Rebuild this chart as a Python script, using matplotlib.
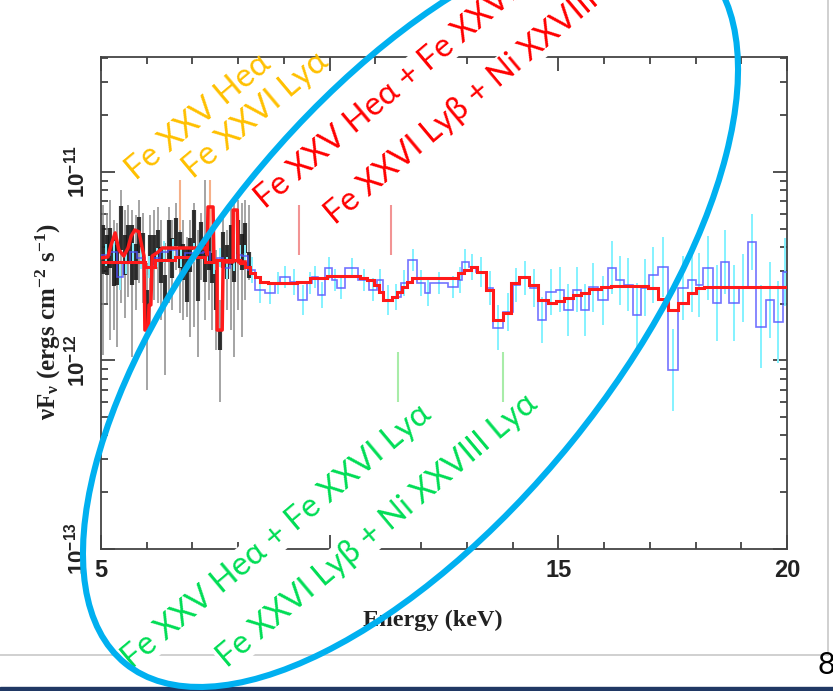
import numpy as np
import matplotlib
matplotlib.use('Agg')
import matplotlib.pyplot as plt
from matplotlib.patches import Ellipse, Rectangle
from matplotlib.ticker import MultipleLocator

# Energy in keV, flux (nu F_nu) in units of 1e-12 erg cm^-2 s^-1

# blue rebinned spectrum (step histogram) + cyan error bars (dex)
blue_edges = [5.00, 5.20, 5.35, 5.48, 5.63, 5.79, 5.96, 6.14, 6.29, 6.47, 6.66, 6.84,
              7.23, 7.39, 7.54, 7.67, 7.82, 7.98, 8.09, 8.22, 8.37, 8.59, 8.81, 8.92,
              9.14, 9.31, 9.51, 9.62, 9.75, 9.90, 10.06, 10.17, 10.34, 10.63, 10.85,
              11.04, 11.17, 11.37, 11.55, 11.72, 11.92, 12.09, 12.20, 12.58, 12.80,
              12.90, 13.04, 13.19, 13.41, 13.58, 13.80, 14.00, 14.17, 14.39, 14.55,
              14.72, 14.94, 15.12, 15.31, 15.49, 15.66, 15.86, 16.08, 16.25, 16.43,
              16.63, 16.80, 16.98, 17.17, 17.39, 17.61, 17.83, 18.01, 18.16, 18.38,
              18.55, 18.73, 18.95, 19.14, 19.32, 19.54, 19.71, 19.91, 20.0]
blue_flux = [3.63, 3.76, 2.77, 3.29, 3.76, 3.50, 3.13, 3.50, 3.76, 3.86, 3.50, 3.72,
             3.76, 3.29, 3.50, 3.10, 3.41, 3.63, 3.58, 3.02, 2.37, 2.28, 2.58, 2.77,
             2.61, 2.09, 2.58, 2.77, 2.23, 3.10, 2.67, 2.43, 3.10, 2.67, 2.37, 2.67,
             2.09, 2.17, 2.58, 3.41, 2.58, 2.28, 2.58, 2.45, 2.67, 3.33, 3.13, 2.95,
             2.43, 1.49, 1.81, 2.52, 2.74, 2.43, 1.64, 2.31, 2.37, 1.85, 2.37, 1.85,
             2.45, 2.09, 3.10, 2.67, 2.52, 1.74, 2.43, 2.84, 3.13, 0.89, 2.43, 2.67,
             2.52, 3.10, 2.02, 3.33, 2.02, 2.43, 4.25, 1.51, 2.09, 1.60, 2.95]
blue_err = [0.06, 0.06, 0.07, 0.06, 0.05, 0.06, 0.06, 0.05, 0.06, 0.06, 0.05, 0.05,
            0.06, 0.06, 0.05, 0.06, 0.06, 0.05,
            0.06, 0.07, 0.07, 0.06, 0.06, 0.06, 0.07, 0.08, 0.06, 0.06, 0.07, 0.06,
            0.06, 0.06, 0.05, 0.06, 0.06, 0.06, 0.08, 0.07, 0.07, 0.06, 0.07, 0.07,
            0.06, 0.06, 0.07,
            0.07, 0.07, 0.08, 0.09, 0.12, 0.10, 0.09, 0.09, 0.10, 0.12,
            0.12, 0.12, 0.14, 0.12, 0.14, 0.13, 0.13, 0.14, 0.13, 0.14, 0.17, 0.15,
            0.15, 0.16, 0.22, 0.17, 0.17, 0.17, 0.17, 0.20, 0.17, 0.20, 0.18, 0.15,
            0.22, 0.20, 0.22, 0.18]

# red model for the blue spectrum (steps)
model_b_edges = [5.00, 5.96, 6.18, 6.62, 7.28, 7.50, 8.04, 8.15, 8.26, 8.37, 8.48, 8.66,
                 9.29, 9.58, 9.95, 10.67, 10.82, 10.96, 11.07, 11.17, 11.37, 11.48,
                 11.59, 11.70, 11.81, 12.80, 12.93, 13.08, 13.23, 13.41, 13.58, 13.78,
                 13.96, 14.13, 14.35, 14.55, 14.77, 14.94, 15.12, 15.31, 15.49, 15.66,
                 15.93, 16.15, 16.96, 17.17, 17.39, 17.61, 17.83, 18.01, 18.18, 20.0]
model_b_flux = [3.33, 3.13, 3.41, 3.54, 3.33, 3.41, 3.29, 3.13, 2.91, 2.77, 2.61, 2.58,
                2.61, 2.74, 2.81, 2.74, 2.67, 2.52, 2.31, 2.09, 2.17, 2.31, 2.45, 2.61,
                2.74, 2.91, 3.02, 3.13, 2.95, 2.37, 1.64, 1.79, 2.58, 2.77, 2.52, 2.09,
                2.02, 2.06, 2.15, 2.23, 2.28, 2.40, 2.45, 2.48, 2.43, 2.12, 1.85, 2.02,
                2.28, 2.43, 2.45]

# red model for the black (high resolution) spectrum
model_a_energy = [5.00, 5.15, 5.22, 5.31, 5.39, 5.50, 5.59, 5.66, 5.74, 5.83, 5.90, 5.94,
                  5.96, 6.03, 6.05, 6.09, 6.12, 6.25, 6.34, 7.28, 7.32, 7.34, 7.45, 7.47,
                  7.54, 7.54, 7.65, 7.67, 7.89, 7.89, 7.98, 8.00, 8.15]
model_a_flux = [3.50, 3.54, 4.10, 4.75, 3.86, 3.58, 3.95, 4.57, 4.92, 4.81, 3.95, 3.58,
                1.45, 1.45, 1.97, 1.97, 3.58, 3.76, 3.95, 3.95, 3.63, 6.52, 6.52, 3.33,
                3.33, 1.45, 1.45, 3.33, 3.33, 6.28, 6.28, 3.33, 3.33]

# black spectrum: centre, thick bar half length (dex), thin grey range
black_energy = [5.04, 5.13, 5.20, 5.28, 5.35, 5.44, 5.53, 5.59, 5.68, 5.77, 5.83, 5.92,
                6.01, 6.07, 6.16, 6.25, 6.31, 6.40, 6.49, 6.55, 6.64, 6.73, 6.80, 6.88,
                6.95, 7.04, 7.12, 7.19, 7.28, 7.36, 7.43, 7.52, 7.61, 7.67, 7.76, 7.85,
                7.91, 8.00, 8.09, 8.15, 8.24]
black_flux = [3.86, 3.63, 3.95, 3.33, 3.21, 5.05, 3.63, 4.20, 3.63, 3.33, 4.63, 3.95,
              1.85, 3.63, 3.86, 4.10, 3.21, 2.37, 4.36, 3.50, 4.81, 3.86, 3.33, 2.84,
              3.63, 4.92, 2.74, 4.36, 3.33, 3.86, 3.10, 2.37, 1.28, 3.86, 3.33, 4.10,
              2.95, 4.36, 3.76, 4.47, 3.21]
black_bar = [0.13, 0.106, 0.106, 0.13, 0.106, 0.117, 0.106, 0.095, 0.16, 0.095, 0.095,
             0.08, 0.106, 0.106, 0.08, 0.08, 0.095, 0.08, 0.106, 0.106, 0.074, 0.095,
             0.095, 0.143, 0.09, 0.106, 0.122, 0.095, 0.106, 0.106, 0.08, 0.106, 0.053,
             0.095, 0.09, 0.106, 0.053, 0.106, 0.095, 0.08, 0.07]
black_hi = [6.68, 6.06, 7.10, 5.56, 5.36, 8.03, 6.28, 6.68, 6.28, 5.91, 7.10, 6.06,
            3.29, 5.91, 6.28, 6.52, 5.56, 4.20, 6.52, 5.56, 6.85, 7.10, 5.56, 4.52,
            5.56, 6.85, 4.92, 6.06, 9.07, 6.52, 4.92, 3.86, 2.09, 5.91, 4.92, 6.52,
            6.85, 7.10, 6.85, 7.10, 6.68]
black_lo = [1.07, 2.02, 1.28, 1.45, 1.18, 2.02, 1.68, 2.17, 1.04, 1.85, 2.58, 2.02,
            0.70, 1.51, 2.09, 2.02, 1.64, 0.84, 2.02, 1.85, 3.02, 1.79, 1.64, 1.70,
            1.33, 1.51, 1.04, 2.67, 1.64, 2.09, 1.45, 1.14, 0.60, 2.09, 1.85, 1.45,
            1.04, 1.85, 1.33, 2.09, 2.67]

# line markers (energy) and their vertical extents
orange_lines = [6.73, 7.39]
orange_span = [4.92, 9.07]
red_lines = [9.34, 11.35]
red_span = [3.63, 6.68]
green_lines = [11.50, 13.78]
green_span = [0.60, 1.11]

x_ticks = [5, 10, 15, 20]

plt.rcParams['mathtext.fontset'] = 'custom'
plt.rcParams['mathtext.rm'] = 'Liberation Serif:bold'
plt.rcParams['mathtext.it'] = 'Liberation Serif:bold'
plt.rcParams['mathtext.bf'] = 'Liberation Serif:bold'

S = 1e-12
fig = plt.figure(figsize=(8.33, 6.91), dpi=100)
ax = fig.add_axes([101 / 833, 1 - 549 / 691, 686 / 833, 492 / 691])

# black data
bf = np.array(black_flux) * S
bb = np.array(black_bar)
ax.vlines(black_energy, np.array(black_lo) * S, np.array(black_hi) * S,
          color='#8c8c8c', lw=1.1, zorder=2)
ax.vlines(black_energy, bf * 10 ** -bb, bf * 10 ** bb, color='#151515', lw=3.0,
          alpha=0.85, zorder=2)

# blue data with cyan errors
be = np.array(blue_edges)
bc = 0.5 * (be[1:] + be[:-1])
bflux = np.array(blue_flux) * S
berr = np.array(blue_err)
ax.vlines(bc, bflux * 10 ** -berr, bflux * 10 ** berr, color='#84f2ff', lw=1.4, zorder=3)
ax.stairs(bflux, be, baseline=None, color='#5050ff', lw=1.2, alpha=0.8, zorder=4)

# models
ax.stairs(np.array(model_b_flux) * S, model_b_edges, baseline=None, color='#ff1a1a',
          lw=2.2, zorder=5)
ax.plot(model_a_energy, np.array(model_a_flux) * S, color='#ff1a1a', lw=2.5, zorder=5)

# line markers
ax.vlines(orange_lines, orange_span[0] * S, orange_span[1] * S, color='#f6b089', lw=1.5)
ax.vlines(red_lines, red_span[0] * S, red_span[1] * S, color='#f29494', lw=1.5)
ax.vlines(green_lines, green_span[0] * S, green_span[1] * S, color='#a8eca8', lw=1.5)

ax.set_xlim(5, 20)
ax.set_yscale('log')
ax.set_ylim(1e-13, 4.07e-11)
ax.set_xticks(x_ticks)
ax.xaxis.set_minor_locator(MultipleLocator(1))
ax.tick_params(which='both', direction='in', top=True, right=True, color='#333333', width=1.2)
ax.tick_params(which='major', length=10)
ax.tick_params(which='minor', length=5)
ax.tick_params(axis='x', labelsize=17, pad=7)
ax.tick_params(axis='y', labelsize=16, pad=8, labelrotation=90)
for lab in ax.get_xticklabels() + ax.get_yticklabels():
    lab.set_family('Liberation Sans')
    lab.set_weight('bold')
    lab.set_color('#222222')
for lab in ax.get_yticklabels():
    lab.set_verticalalignment('center')
for sp in ax.spines.values():
    sp.set_color('#444444')
    sp.set_linewidth(1.3)

ax.set_xlabel('Energy (keV)', fontsize=17.5, family='Liberation Serif', weight='bold',
              color='#222222')
ax.xaxis.set_label_coords(0.483, -0.124)
ax.set_ylabel(r'$\nu$F$_\nu$ (ergs cm$^{-2}$ s$^{-1}$)', fontsize=18,
              family='Liberation Serif', weight='bold', color='#222222')
ax.yaxis.set_label_coords(-0.056, 0.461)

# slide overlay in pixel coordinates
ov = fig.add_axes([0, 0, 1, 1])
ov.set_xlim(0, 833)
ov.set_ylim(691, 0)
ov.axis('off')
ov.set_zorder(5)

ov.plot([828, 828], [0, 655], color='#c8c8c8', lw=1.2)
ov.plot([0, 828], [655, 655], color='#c8c8c8', lw=1.2)
ov.add_patch(Rectangle((0, 687), 833, 5, color='#203864'))
ov.text(818, 674, '8', fontsize=22, family=['Lato', 'DejaVu Sans'], color='black')

labels = [
    ('Fe XXV Heα', '#FFC000', 136, 181, False),
    ('Fe XXVI Lyα', '#FFC000', 193, 179, False),
    ('Fe XXV Heα + Fe XXVI Lyα', '#FF0000', 265, 209, True),
    ('Fe XXVI Lyβ + Ni XXVIII Lyα', '#FF0000', 335, 225, True),
    ('Fe XXV Heα + Fe XXVI Lyα', '#00DD55', 132, 669, True),
    ('Fe XXVI Lyβ + Ni XXVIII Lyα', '#00DD55', 227, 668, True),
]
for txt, col, x0, y0, box in labels:
    bbox = dict(facecolor='white', edgecolor='none', pad=1) if box else None
    ov.text(x0, y0, txt, color=col, fontsize=23.5, family=['Lato', 'DejaVu Sans'],
            rotation=40, rotation_mode='anchor', ha='left', va='baseline', bbox=bbox)

ov.add_patch(Ellipse((410.5, 311.5), 906, 415, angle=-51, fill=False,
                     edgecolor='#00B0F0', lw=4.4, zorder=10))

fig.savefig('out.png', dpi=100)
